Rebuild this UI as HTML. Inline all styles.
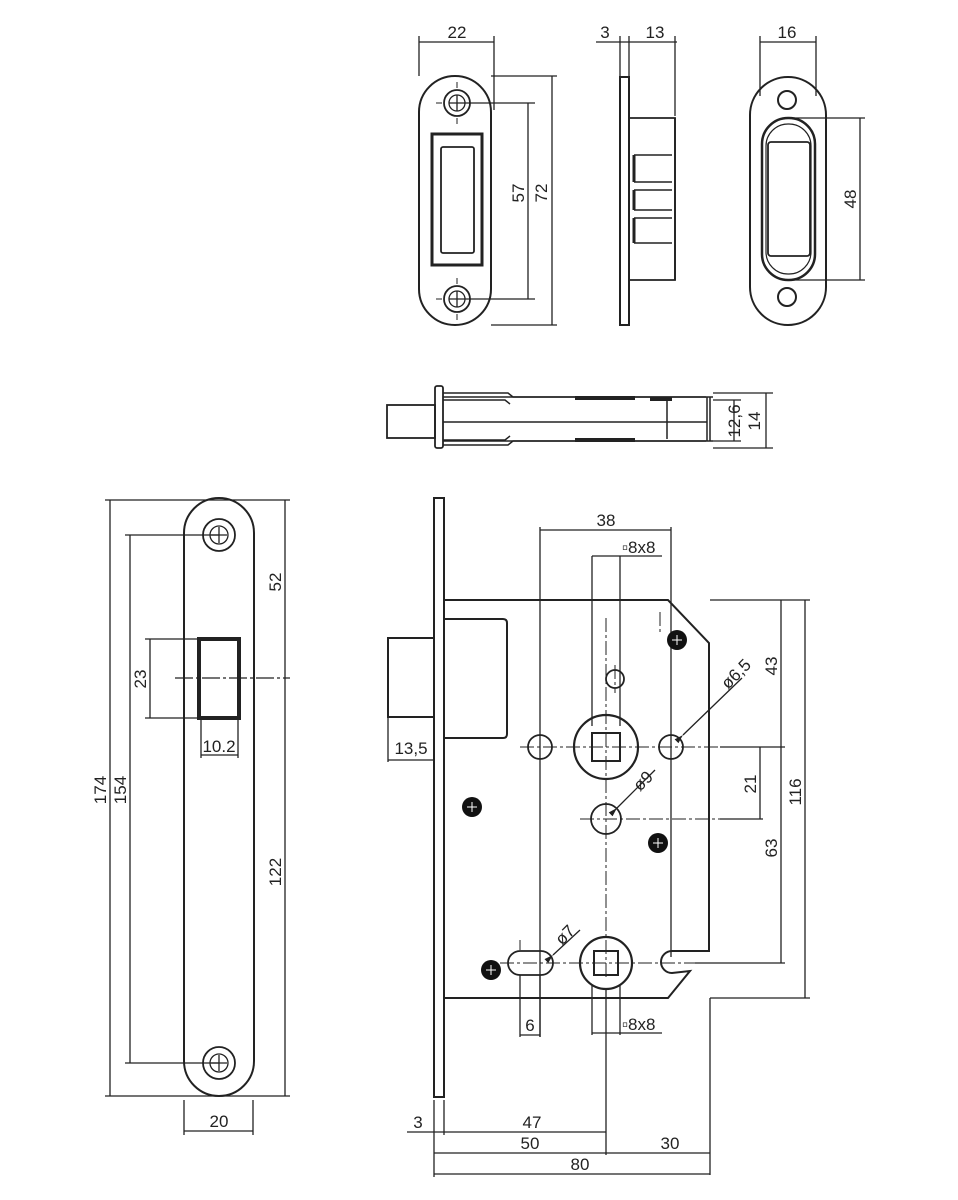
<!DOCTYPE html>
<html><head><meta charset="utf-8"><style>
html,body{margin:0;padding:0;background:#fff}
svg{display:block}
text{font-family:"Liberation Sans",sans-serif;font-size:17px;fill:#222}
</style></head><body>
<svg width="958" height="1200" viewBox="0 0 958 1200" xmlns="http://www.w3.org/2000/svg">
<defs>
<marker id="ar" viewBox="0 0 10 10" refX="10" refY="5" markerWidth="7" markerHeight="7" orient="auto"><path d="M0,2 L10,5 L0,8z" fill="#222"/></marker>
</defs>
<g fill="none" stroke="#222" stroke-width="1.3">
<rect x="419" y="76" width="72" height="249" rx="36" stroke-width="2"/>
<circle cx="457" cy="103" r="13" stroke-width="1.8"/><circle cx="457" cy="103" r="8"/>
<path d="M449 103h16M457 95v16"/>
<circle cx="457" cy="299" r="13" stroke-width="1.8"/><circle cx="457" cy="299" r="8"/>
<path d="M449 299h16M457 291v16"/>
<path d="M457 82v6M457 118v6M436 103h6M472 103h6M457 278v6M457 314v6M436 299h6M472 299h6" stroke-width="1"/>
<rect x="432" y="134" width="50" height="131" stroke-width="3"/>
<rect x="441" y="147" width="33" height="106" rx="2" stroke-width="1.8"/>
<path d="M419 36v40M494 36v74M419 42h75"/>
<path d="M465 103h70M465 299h70M528 103v196"/>
<path d="M491 76h66M491 325h66M552 76v249"/>
<rect x="620" y="77" width="9" height="248" stroke-width="2"/>
<path d="M629 118h46v162h-46" stroke-width="1.8"/>
<path d="M675 118v162" stroke-width="1.8"/>
<path d="M634 155h38M634 182h38M634 190h38M634 210h38M634 218h38M634 243h38" stroke-width="1.5"/>
<path d="M634 155v27M634 190v20M634 218v25" stroke-width="3"/>
<path d="M620 36v40M629 36v40M675 36v80M596 42h81"/>
<rect x="750" y="77" width="76" height="248" rx="38" stroke-width="2"/>
<circle cx="787" cy="100" r="9" stroke-width="2"/>
<circle cx="787" cy="297" r="9" stroke-width="2"/>
<rect x="762" y="118" width="53" height="162" rx="26" stroke-width="2.5"/>
<rect x="766" y="124" width="45" height="150" rx="22" stroke-width="1.2"/>
<rect x="768" y="142" width="42" height="114" rx="3" stroke-width="1.8"/>
<path d="M760 36v60M816 36v60M760 42h56"/>
<path d="M787 118h78M787 280h78M860 118v162"/>
<rect x="387" y="405" width="48" height="33" stroke-width="1.8"/>
<rect x="435" y="386" width="8" height="62" rx="2" stroke-width="1.8"/>
<path d="M443 393h65l5 4h193M443 400h62l5 4M443 445h65l5-4h193M443 440h62l5-4" stroke-width="1.5"/>
<path d="M443 397h270M443 441h270M443 422h264M707 397v44M667 400v39M710 397v44" stroke-width="1.5"/>
<path d="M575 398h60M575 440h60M650 399h22" stroke-width="4"/>
<path d="M713 400h28M713 441h28M734 400v41M713 393h60M713 448h60M766 393v55"/>
<path d="M184 533a35 35 0 0 1 70 0v528a35 35 0 0 1 -70 0z" stroke-width="2"/>
<circle cx="219" cy="535" r="16" stroke-width="1.8"/><circle cx="219" cy="535" r="9"/>
<path d="M211 535h16M219 527v16"/>
<circle cx="219" cy="1063" r="16" stroke-width="1.8"/><circle cx="219" cy="1063" r="9"/>
<path d="M211 1063h16M219 1055v16"/>
<rect x="199" y="639" width="40" height="79" stroke-width="4"/>
<path d="M175 678h115" stroke-dasharray="18 3 3 3"/>
<path d="M105 500h185M105 1096h185M110 500v596"/>
<path d="M125 535h94M125 1063h94M130 535v528"/>
<path d="M285 500v596"/>
<path d="M145 639h54M145 718h54M150 639v79"/>
<path d="M201 720v38M238 720v38M201 755h37"/>
<path d="M184 1100v35M253 1100v35M184 1131h69"/>
<rect x="434" y="498" width="10" height="599" stroke-width="2"/>
<rect x="388" y="638" width="46" height="79" stroke-width="2"/>
<path d="M444 619h59q4 0 4 4v111q0 4 -4 4h-59" stroke-width="2"/>
<path d="M444 600h224l41 43v308h-37a11 11 0 0 0 0 22l18 -2l-22 27h-224" stroke-width="2"/>
<circle cx="606" cy="747" r="32" stroke-width="2.2"/>
<rect x="592" y="733" width="28" height="28" stroke-width="2"/>
<circle cx="540" cy="747" r="12" stroke-width="1.8"/>
<circle cx="671" cy="747" r="12" stroke-width="1.8"/>
<circle cx="615" cy="679" r="9" stroke-width="1.8"/>
<circle cx="606" cy="819" r="15" stroke-width="1.8"/>
<circle cx="606" cy="963" r="26" stroke-width="2.2"/>
<rect x="594" y="951" width="24" height="24" stroke-width="2"/>
<rect x="508" y="951" width="45" height="24" rx="12" stroke-width="1.8"/>
<path d="M520 747h200M580 819h170M500 963h215" stroke-width="1" stroke-dasharray="14 3 3 3"/>
<path d="M606 618v360M615 665v28M520 940v10M660 612v20" stroke-width="1" stroke-dasharray="14 3 3 3"/>
<path d="M720 747h65M720 819h43M695 963h90M710 600h100M710 998h100" stroke-width="1.2"/>
<path d="M540 527v510M671 527v430M540 530h131"/>
<path d="M592 556v170M620 556v170M592 556h70"/>
<path d="M606 990v165"/>
<path d="M592 985v50M620 985v50M592 1033h70"/>
<path d="M520 975v62M540 975v62M520 1035h20"/>
<path d="M781 600v363M760 747v72M805 600v398"/>
<path d="M388 718v44M388 760h46"/>
<path d="M434 1100v35M444 1100v35M407 1132h199"/>
<path d="M434 1135v42M710 998v177M434 1153h276M434 1174h276"/>
<path d="M683 735L742 678" marker-start="url(#ar)"/>
<path d="M617 808L655 770" marker-start="url(#ar)"/>
<path d="M553 955L580 930" marker-start="url(#ar)"/>
</g>
<g fill="#111">
<circle cx="677" cy="640" r="10"/><circle cx="472" cy="807" r="10"/>
<circle cx="658" cy="843" r="10"/><circle cx="491" cy="970" r="10"/>
</g>
<g stroke="#fff" stroke-width="1">
<path d="M672 640h10M677 635v10M467 807h10M472 802v10M653 843h10M658 838v10M486 970h10M491 965v10"/>
</g>
<text x="457" y="38" text-anchor="middle">22</text>
<text x="605" y="38" text-anchor="middle">3</text>
<text x="655" y="38" text-anchor="middle">13</text>
<text x="787" y="38" text-anchor="middle">16</text>
<text transform="translate(524,193) rotate(-90)" text-anchor="middle">57</text>
<text transform="translate(547,193) rotate(-90)" text-anchor="middle">72</text>
<text transform="translate(856,199) rotate(-90)" text-anchor="middle">48</text>
<text transform="translate(740,421) rotate(-90)" text-anchor="middle">12,6</text>
<text transform="translate(760,421) rotate(-90)" text-anchor="middle">14</text>
<text transform="translate(106,790) rotate(-90)" text-anchor="middle">174</text>
<text transform="translate(126,790) rotate(-90)" text-anchor="middle">154</text>
<text transform="translate(146,679) rotate(-90)" text-anchor="middle">23</text>
<text transform="translate(281,582) rotate(-90)" text-anchor="middle">52</text>
<text transform="translate(281,872) rotate(-90)" text-anchor="middle">122</text>
<text x="219" y="752" text-anchor="middle" font-size="15">10.2</text>
<text x="219" y="1127" text-anchor="middle">20</text>
<text x="606" y="526" text-anchor="middle">38</text>
<text x="622" y="553">▫8x8</text>
<text x="622" y="1030">▫8x8</text>
<text x="530" y="1031" text-anchor="middle">6</text>
<text x="411" y="754" text-anchor="middle">13,5</text>
<text transform="translate(777,666) rotate(-90)" text-anchor="middle">43</text>
<text transform="translate(756,784) rotate(-90)" text-anchor="middle">21</text>
<text transform="translate(801,792) rotate(-90)" text-anchor="middle">116</text>
<text transform="translate(777,848) rotate(-90)" text-anchor="middle">63</text>
<text transform="translate(728,690) rotate(-45)">ø6,5</text>
<text transform="translate(640,792) rotate(-45)">ø9</text>
<text transform="translate(562,946) rotate(-45)">ø7</text>
<text x="418" y="1128" text-anchor="middle">3</text>
<text x="532" y="1128" text-anchor="middle">47</text>
<text x="530" y="1149" text-anchor="middle">50</text>
<text x="670" y="1149" text-anchor="middle">30</text>
<text x="580" y="1170" text-anchor="middle">80</text>
</svg>
</body></html>
